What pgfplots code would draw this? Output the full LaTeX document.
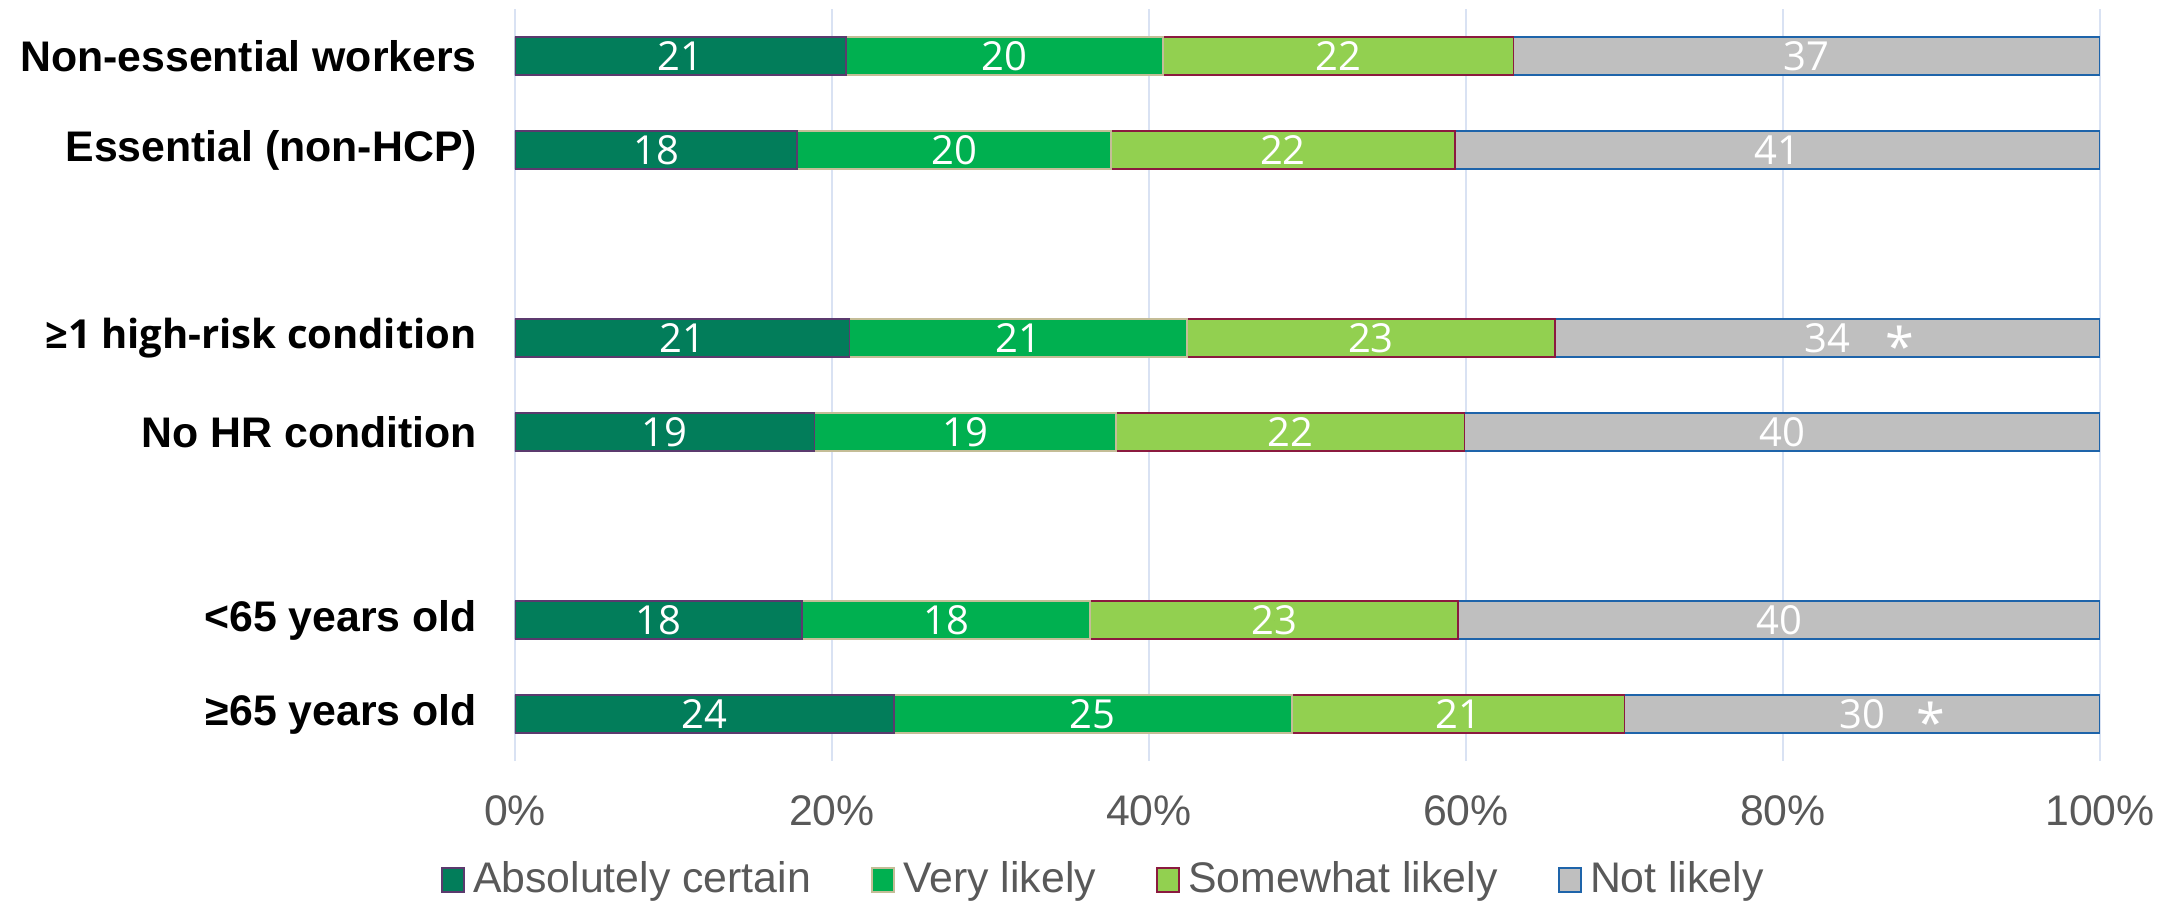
\documentclass[border=0pt]{standalone}
\usepackage{pgfplots}
\usepackage{pgfplotstable}
\pgfplotsset{compat=1.18}
\usepackage{fontspec}
\setmainfont{Liberation Sans}
\newfontfamily\segoe{Open Sans}
\definecolor{cA}{HTML}{027D5A}
\definecolor{cB}{HTML}{00B050}
\definecolor{cC}{HTML}{92D050}
\definecolor{cD}{HTML}{BFBFBF}
\definecolor{bA}{HTML}{5B3A6E}
\definecolor{bB}{HTML}{C4BD97}
\definecolor{bC}{HTML}{8B1A3F}
\definecolor{bD}{HTML}{1E64AA}
\definecolor{gridblue}{HTML}{D9E2F3}
\definecolor{tickgray}{HTML}{595959}

\pgfplotstableread{
y a b c d
7 20.9 20.0 22.1 37.0
6 17.8 19.8 21.7 40.7
4 21.1 21.3 23.2 34.4
3 18.9 19.0 22.0 40.1
1 18.1 18.2 23.2 40.5
0 23.9 25.1 21.0 30.0
}\bars

\pgfplotstableread{
x y lab
10.45 7 21
30.9 7 20
51.95 7 22
81.5 7 37
8.9 6 18
27.7 6 20
48.45 6 22
79.65 6 41
10.55 4 21
31.75 4 21
54.0 4 23
82.8 4 34
9.45 3 19
28.4 3 19
48.9 3 22
79.95 3 40
9.05 1 18
27.2 1 18
47.9 1 23
79.75 1 40
11.95 0 24
36.45 0 25
59.5 0 21
85.0 0 30
}\labs

\pgfplotstableread{
x y lab
87.4 4 *
89.3 0 *
}\stars

\begin{document}
\begin{tikzpicture}
\useasboundingbox (-128.75pt,-35pt) rectangle (415.75pt,190.25pt);
\begin{axis}[
  at={(0,0)}, anchor=south west, scale only axis,
  width=396.25pt, height=188pt,
  xbar stacked, bar width=9.4pt,
  xmin=0, xmax=100, ymin=-0.5, ymax=7.5,
  axis line style={draw=none},
  major tick length=0pt,
  xmajorgrids, grid style={color=gridblue, line width=0.6pt},
  xtick={0,20,40,60,80,100},
  xticklabels={0\%,20\%,40\%,60\%,80\%,100\%},
  xticklabel style={text=tickgray, font=\fontsize{10.7}{12}\selectfont, yshift=-5pt},
  ytick={0,1,3,4,6,7},
  yticklabels={{≥65 years old},{<65 years old},{No HR condition},{\segoe\bfseries\fontsize{10}{12}\selectfont ≥1 high-risk condition},{Essential (non-HCP)},{Non-essential workers}},
  yticklabel style={font=\bfseries\fontsize{10.7}{12}\selectfont, xshift=-6pt},
  legend columns=4,
  legend style={at={(rel axis cs:0.373,-0.158)}, anchor=center, draw=none,
    font=\fontsize{10.7}{12}\selectfont, text=tickgray,
    /tikz/every even column/.append style={column sep=13pt}},
  legend image code/.code={\draw[#1, line width=0.6pt] (0pt,-3pt) rectangle (5.5pt,3pt);},
]
\addplot[fill=cA, draw=bA, line width=0.45pt] table[x=a, y=y]{\bars};
\addplot[fill=cB, draw=bB, line width=0.45pt] table[x=b, y=y]{\bars};
\addplot[fill=cC, draw=bC, line width=0.45pt] table[x=c, y=y]{\bars};
\addplot[fill=cD, draw=bD, line width=0.45pt] table[x=d, y=y]{\bars};
\legend{Absolutely certain, Very likely, Somewhat likely, Not likely}
\end{axis}
\begin{axis}[
  at={(0,0)}, anchor=south west, scale only axis,
  width=396.25pt, height=188pt,
  xmin=0, xmax=100, ymin=-0.5, ymax=7.5,
  hide axis, clip=false,
]
\addplot[only marks, mark=*, mark size=0pt, mark options={draw=none, fill=none},
  nodes near coords, point meta=explicit symbolic,
  nodes near coords style={anchor=center, text=white, font=\segoe\fontsize{10}{12}\selectfont}]
  table[x=x, y=y, meta=lab]{\labs};
\addplot[only marks, mark=*, mark size=0pt, mark options={draw=none, fill=none},
  nodes near coords, point meta=explicit symbolic,
  nodes near coords style={anchor=center, text=white, yshift=-2pt, font=\segoe\fontsize{13}{14}\selectfont}]
  table[x=x, y=y, meta=lab]{\stars};
\end{axis}
\end{tikzpicture}
\end{document}
